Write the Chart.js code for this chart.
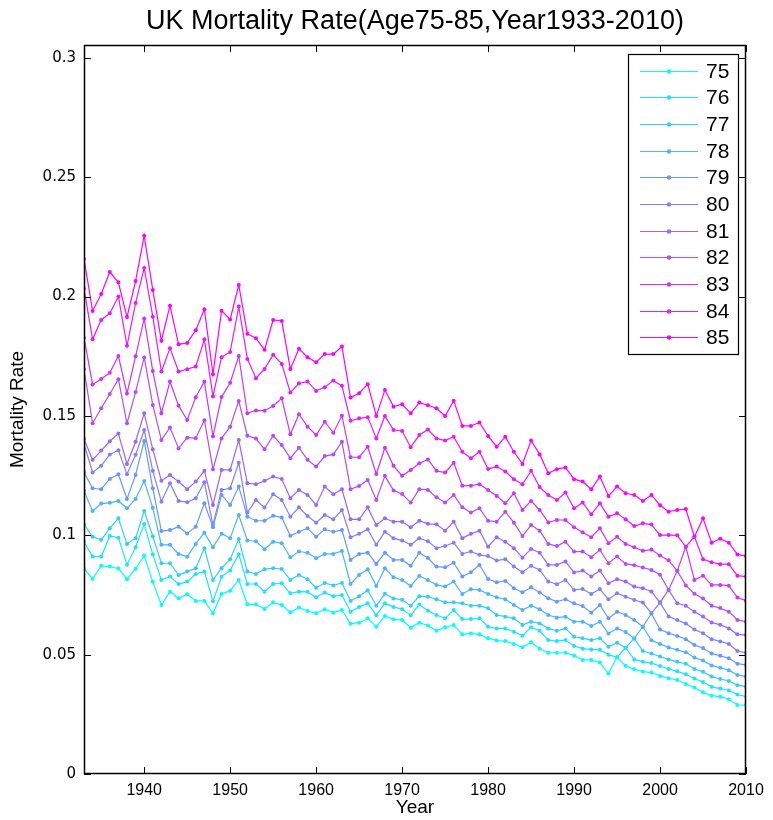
<!DOCTYPE html>
<html>
<head>
<meta charset="utf-8">
<title>UK Mortality Rate</title>
<script src="https://cdn.jsdelivr.net/npm/chart.js@4.4.1/dist/chart.umd.min.js"></script>
<style>
  body { margin: 0; background: #fff; }
  canvas { display: block; }
</style>
</head>
<body>
<canvas id="mortalityChart" width="773" height="820"></canvas>
<script>
const years = [
  1933, 1934, 1935, 1936, 1937, 1938, 1939, 1940, 1941, 1942, 1943, 1944, 1945, 1946,
  1947, 1948, 1949, 1950, 1951, 1952, 1953, 1954, 1955, 1956, 1957, 1958, 1959, 1960,
  1961, 1962, 1963, 1964, 1965, 1966, 1967, 1968, 1969, 1970, 1971, 1972, 1973, 1974,
  1975, 1976, 1977, 1978, 1979, 1980, 1981, 1982, 1983, 1984, 1985, 1986, 1987, 1988,
  1989, 1990, 1991, 1992, 1993, 1994, 1995, 1996, 1997, 1998, 1999, 2000, 2001, 2002,
  2003, 2004, 2005, 2006, 2007, 2008, 2009, 2010
];

const ages = ['75', '76', '77', '78', '79', '80', '81', '82', '83', '84', '85'];

// mortality rate per year, one array per age
const age75 = [
  0.0860, 0.0818, 0.0872, 0.0869, 0.0861, 0.0816, 0.0860, 0.0915, 0.0805, 0.0708, 0.0764, 0.0736, 0.0753, 0.0725,
  0.0725, 0.0673, 0.0754, 0.0768, 0.0813, 0.0711, 0.0711, 0.0691, 0.0719, 0.0708, 0.0678, 0.0697, 0.0683,
  0.0673, 0.0690, 0.0676, 0.0687, 0.0629, 0.0634, 0.0652, 0.0617, 0.0662, 0.0648, 0.0645, 0.0613, 0.0634, 0.0622,
  0.0600, 0.0615, 0.0624, 0.0585, 0.0589, 0.0585, 0.0569, 0.0559, 0.0557, 0.0545, 0.0531, 0.0552, 0.0525,
  0.0508, 0.0508, 0.0508, 0.0496, 0.0478, 0.0478, 0.0467, 0.0421, 0.0489, 0.0453, 0.0439, 0.0429, 0.0425,
  0.0411, 0.0401, 0.0394, 0.0377, 0.0362, 0.0342, 0.0328, 0.0324, 0.0313, 0.0289, 0.0289
];
const age76 = [
  0.0973, 0.0911, 0.0911, 0.0997, 0.0990, 0.0877, 0.0950, 0.1047, 0.0920, 0.0813, 0.0827, 0.0796, 0.0806, 0.0838,
  0.0848, 0.0724, 0.0826, 0.0853, 0.0921, 0.0796, 0.0796, 0.0764, 0.0796, 0.0799, 0.0757, 0.0764, 0.0763,
  0.0740, 0.0760, 0.0745, 0.0750, 0.0680, 0.0700, 0.0715, 0.0665, 0.0715, 0.0700, 0.0690, 0.0665, 0.0710, 0.0684,
  0.0666, 0.0652, 0.0687, 0.0649, 0.0649, 0.0652, 0.0617, 0.0610, 0.0610, 0.0596, 0.0579, 0.0615, 0.0600,
  0.0561, 0.0557, 0.0561, 0.0536, 0.0525, 0.0522, 0.0520, 0.0500, 0.0489, 0.0529, 0.0480, 0.0470, 0.0465,
  0.0452, 0.0440, 0.0430, 0.0418, 0.0400, 0.0385, 0.0365, 0.0358, 0.0350, 0.0333, 0.0324
];
const age77 = [
  0.1046, 0.0994, 0.0981, 0.1029, 0.1071, 0.0964, 0.0988, 0.1102, 0.0996, 0.0883, 0.0883, 0.0834, 0.0848, 0.0862,
  0.0946, 0.0813, 0.0862, 0.0900, 0.0984, 0.0848, 0.0838, 0.0858, 0.0862, 0.0859, 0.0813, 0.0834, 0.0816,
  0.0780, 0.0800, 0.0790, 0.0800, 0.0725, 0.0745, 0.0770, 0.0705, 0.0755, 0.0735, 0.0730, 0.0705, 0.0745, 0.0743,
  0.0732, 0.0719, 0.0719, 0.0715, 0.0705, 0.0705, 0.0694, 0.0666, 0.0659, 0.0652, 0.0624, 0.0638, 0.0631,
  0.0610, 0.0600, 0.0610, 0.0575, 0.0569, 0.0561, 0.0569, 0.0533, 0.0550, 0.0529, 0.0568, 0.0515, 0.0505,
  0.0492, 0.0480, 0.0470, 0.0462, 0.0440, 0.0428, 0.0408, 0.0398, 0.0390, 0.0372, 0.0366
];
const age78 = [
  0.1186, 0.1102, 0.1133, 0.1136, 0.1144, 0.1113, 0.1152, 0.1227, 0.1115, 0.0960, 0.0960, 0.0922, 0.0910, 0.0964,
  0.1011, 0.0950, 0.1007, 0.0988, 0.1085, 0.0978, 0.0975, 0.0942, 0.0973, 0.0967, 0.0908, 0.0932, 0.0927,
  0.0904, 0.0922, 0.0922, 0.0934, 0.0796, 0.0834, 0.0858, 0.0788, 0.0862, 0.0824, 0.0813, 0.0788, 0.0830, 0.0813,
  0.0792, 0.0785, 0.0806, 0.0754, 0.0774, 0.0771, 0.0754, 0.0740, 0.0732, 0.0708, 0.0687, 0.0705, 0.0690,
  0.0666, 0.0655, 0.0659, 0.0638, 0.0638, 0.0620, 0.0638, 0.0589, 0.0610, 0.0595, 0.0568, 0.0617, 0.0560,
  0.0545, 0.0530, 0.0520, 0.0510, 0.0488, 0.0475, 0.0455, 0.0445, 0.0435, 0.0415, 0.0408
];
const age79 = [
  0.1263, 0.1197, 0.1193, 0.1236, 0.1256, 0.1152, 0.1253, 0.1395, 0.1197, 0.1018, 0.1022, 0.1036, 0.1008, 0.1036,
  0.1134, 0.1034, 0.1169, 0.1127, 0.1204, 0.1078, 0.1061, 0.1061, 0.1082, 0.1075, 0.0998, 0.1015, 0.1029,
  0.0994, 0.1025, 0.1015, 0.1022, 0.0897, 0.0922, 0.0927, 0.0880, 0.0927, 0.0897, 0.0897, 0.0872, 0.0927, 0.0905,
  0.0869, 0.0866, 0.0885, 0.0827, 0.0845, 0.0876, 0.0817, 0.0803, 0.0809, 0.0778, 0.0761, 0.0782, 0.0760,
  0.0736, 0.0722, 0.0732, 0.0715, 0.0704, 0.0676, 0.0708, 0.0652, 0.0680, 0.0666, 0.0645, 0.0617, 0.0673,
  0.0605, 0.0590, 0.0578, 0.0565, 0.0540, 0.0528, 0.0505, 0.0495, 0.0485, 0.0462, 0.0457
];
const age80 = [
  0.1383, 0.1263, 0.1291, 0.1339, 0.1356, 0.1256, 0.1337, 0.1441, 0.1270, 0.1141, 0.1218, 0.1144, 0.1138, 0.1155,
  0.1222, 0.1043, 0.1190, 0.1197, 0.1304, 0.1095, 0.1148, 0.1116, 0.1172, 0.1148, 0.1078, 0.1117, 0.1081,
  0.1053, 0.1085, 0.1067, 0.1106, 0.0992, 0.1006, 0.1025, 0.0960, 0.1015, 0.0988, 0.0978, 0.0960, 0.0988, 0.0975,
  0.0946, 0.0955, 0.0969, 0.0922, 0.0932, 0.0918, 0.0913, 0.0894, 0.0900, 0.0869, 0.0845, 0.0872, 0.0855,
  0.0806, 0.0795, 0.0813, 0.0771, 0.0775, 0.0754, 0.0775, 0.0732, 0.0757, 0.0743, 0.0729, 0.0718, 0.0673,
  0.0718, 0.0660, 0.0645, 0.0630, 0.0605, 0.0590, 0.0565, 0.0555, 0.0545, 0.0515, 0.0508
];
const age81 = [
  0.1404, 0.1316, 0.1355, 0.1394, 0.1426, 0.1299, 0.1392, 0.1511, 0.1360, 0.1229, 0.1253, 0.1225, 0.1193, 0.1225,
  0.1270, 0.1127, 0.1274, 0.1274, 0.1399, 0.1218, 0.1214, 0.1228, 0.1246, 0.1236, 0.1155, 0.1190, 0.1169,
  0.1127, 0.1204, 0.1172, 0.1193, 0.1067, 0.1067, 0.1117, 0.1043, 0.1071, 0.1057, 0.1057, 0.1034, 0.1061, 0.1048,
  0.1046, 0.1019, 0.1057, 0.0988, 0.1006, 0.1019, 0.0952, 0.0992, 0.0973, 0.0946, 0.0906, 0.0943, 0.0927,
  0.0876, 0.0876, 0.0890, 0.0844, 0.0852, 0.0827, 0.0852, 0.0799, 0.0816, 0.0806, 0.0785, 0.0778, 0.0765,
  0.0718, 0.0771, 0.0715, 0.0705, 0.0680, 0.0660, 0.0635, 0.0625, 0.0610, 0.0585, 0.0582
];
const age82 = [
  0.1696, 0.1469, 0.1532, 0.1592, 0.1654, 0.1469, 0.1600, 0.1745, 0.1546, 0.1399, 0.1452, 0.1364, 0.1409, 0.1407,
  0.1482, 0.1277, 0.1406, 0.1455, 0.1563, 0.1417, 0.1405, 0.1360, 0.1417, 0.1378, 0.1323, 0.1367, 0.1316,
  0.1288, 0.1332, 0.1339, 0.1392, 0.1193, 0.1207, 0.1232, 0.1148, 0.1249, 0.1188, 0.1173, 0.1137, 0.1193, 0.1190,
  0.1159, 0.1137, 0.1169, 0.1117, 0.1095, 0.1113, 0.1061, 0.1057, 0.1099, 0.1053, 0.0997, 0.1043, 0.1019,
  0.0964, 0.0955, 0.0973, 0.0932, 0.0932, 0.0908, 0.0939, 0.0883, 0.0911, 0.0880, 0.0875, 0.0865, 0.0855,
  0.0835, 0.0771, 0.0851, 0.0790, 0.0755, 0.0735, 0.0705, 0.0695, 0.0680, 0.0645, 0.0638
];
const age83 = [
  0.1828, 0.1632, 0.1655, 0.1681, 0.1751, 0.1594, 0.1750, 0.1908, 0.1688, 0.1511, 0.1644, 0.1543, 0.1483, 0.1578,
  0.1644, 0.1415, 0.1579, 0.1639, 0.1751, 0.1511, 0.1523, 0.1522, 0.1542, 0.1574, 0.1423, 0.1507, 0.1455,
  0.1420, 0.1476, 0.1430, 0.1501, 0.1327, 0.1327, 0.1371, 0.1257, 0.1367, 0.1291, 0.1249, 0.1274, 0.1302, 0.1318,
  0.1270, 0.1263, 0.1304, 0.1208, 0.1208, 0.1214, 0.1190, 0.1165, 0.1134, 0.1176, 0.1106, 0.1144, 0.1106,
  0.1054, 0.1064, 0.1064, 0.1034, 0.1013, 0.0992, 0.1029, 0.0967, 0.0994, 0.0964, 0.0950, 0.0935, 0.0940,
  0.0915, 0.0895, 0.0851, 0.0952, 0.0813, 0.0831, 0.0792, 0.0792, 0.0789, 0.0739, 0.0726
];
const age84 = [
  0.2033, 0.1821, 0.1902, 0.1930, 0.2000, 0.1794, 0.1973, 0.2120, 0.1916, 0.1686, 0.1784, 0.1686, 0.1696, 0.1707,
  0.1821, 0.1583, 0.1746, 0.1768, 0.1958, 0.1739, 0.1658, 0.1697, 0.1756, 0.1718, 0.1598, 0.1637, 0.1644,
  0.1605, 0.1620, 0.1648, 0.1626, 0.1480, 0.1490, 0.1495, 0.1406, 0.1500, 0.1441, 0.1437, 0.1369, 0.1420, 0.1443,
  0.1406, 0.1397, 0.1413, 0.1350, 0.1323, 0.1350, 0.1278, 0.1288, 0.1267, 0.1235, 0.1214, 0.1270, 0.1202,
  0.1169, 0.1148, 0.1179, 0.1113, 0.1137, 0.1088, 0.1134, 0.1078, 0.1092, 0.1067, 0.1039, 0.1050, 0.1045,
  0.1001, 0.1001, 0.1000, 0.0952, 0.0994, 0.0900, 0.0887, 0.0879, 0.0879, 0.0831, 0.0827
];
const age85 = [
  0.2158, 0.1940, 0.2011, 0.2103, 0.2060, 0.1914, 0.2065, 0.2255, 0.2028, 0.1815, 0.1962, 0.1800, 0.1806, 0.1859,
  0.1947, 0.1675, 0.1941, 0.1904, 0.2049, 0.1844, 0.1826, 0.1777, 0.1902, 0.1898, 0.1697, 0.1781, 0.1746,
  0.1725, 0.1759, 0.1759, 0.1791, 0.1577, 0.1595, 0.1633, 0.1500, 0.1609, 0.1539, 0.1549, 0.1511, 0.1556, 0.1545,
  0.1532, 0.1500, 0.1564, 0.1458, 0.1458, 0.1473, 0.1416, 0.1371, 0.1413, 0.1350, 0.1299, 0.1397, 0.1339,
  0.1260, 0.1277, 0.1284, 0.1235, 0.1225, 0.1193, 0.1246, 0.1165, 0.1204, 0.1176, 0.1169, 0.1144, 0.1169,
  0.1126, 0.1099, 0.1106, 0.1110, 0.0994, 0.1071, 0.0969, 0.0986, 0.0969, 0.0920, 0.0913
];

const xTicks = [1940, 1950, 1960, 1970, 1980, 1990, 2000, 2010];
const yTicks = [0, 0.05, 0.1, 0.15, 0.2, 0.25, 0.3];
const chartTitle = 'UK Mortality Rate(Age75-85,Year1933-2010)';

const seriesValues = [age75, age76, age77, age78, age79, age80, age81, age82, age83, age84, age85];

// matlab "cool" colormap: cyan -> magenta
function coolColor(i, n) {
  const t = n > 1 ? i / (n - 1) : 0;
  const r = Math.round(255 * t);
  return `rgb(${r},${255 - r},255)`;
}

const datasets = seriesValues.map((values, i) => {
  const color = coolColor(i, seriesValues.length);
  return {
    label: ages[i],
    data: values.map((v, j) => ({x: years[j], y: v})),
    borderColor: color,
    backgroundColor: color,
    borderWidth: 1.2,
    pointRadius: 2,
    pointBorderWidth: 0,
    pointBackgroundColor: color,
    tension: 0,
  };
});

const fontSans = "'Liberation Sans', Arial, Helvetica, sans-serif";

// white page behind the plot, title centred over the axes
const background = {
  id: 'background',
  beforeDraw(chart) {
    const ctx = chart.ctx;
    ctx.save();
    ctx.fillStyle = '#fff';
    ctx.fillRect(0, 0, chart.width, chart.height);
    ctx.restore();
  },
  afterDraw(chart) {
    const {ctx, chartArea: a} = chart;
    ctx.save();
    ctx.fillStyle = '#000';
    ctx.font = `27px ${fontSans}`;
    ctx.textAlign = 'center';
    ctx.textBaseline = 'middle';
    ctx.fillText(chartTitle, (a.left + a.right) / 2, 22);
    ctx.restore();
  },
};

// box round the axes with inward ticks on all four sides
const axesBox = {
  id: 'axesBox',
  afterDatasetsDraw(chart) {
    const {ctx, chartArea: a, scales} = chart;
    const len = 7;
    ctx.save();
    ctx.strokeStyle = '#000';
    ctx.lineWidth = 1;
    ctx.beginPath();
    xTicks.forEach((v) => {
      const px = Math.round(scales.x.getPixelForValue(v)) + 0.5;
      ctx.moveTo(px, a.bottom);
      ctx.lineTo(px, a.bottom - len);
      ctx.moveTo(px, a.top);
      ctx.lineTo(px, a.top + len);
    });
    yTicks.forEach((v) => {
      const py = Math.round(scales.y.getPixelForValue(v)) + 0.5;
      ctx.moveTo(a.left, py);
      ctx.lineTo(a.left + len, py);
      ctx.moveTo(a.right, py);
      ctx.lineTo(a.right - len, py);
    });
    ctx.stroke();
    ctx.lineWidth = 1.5;
    ctx.strokeRect(Math.round(a.left) + 0.5, Math.round(a.top) + 0.5,
      Math.round(a.width) - 1, Math.round(a.height) - 1);
    ctx.restore();
  },
};

// legend box in the top right corner of the axes
const cornerLegend = {
  id: 'cornerLegend',
  afterDraw(chart) {
    const {ctx, chartArea: a} = chart;
    const w = 110, h = 300;
    const left = a.right - 8 - w;
    const top = a.top + 9;
    const pad = 16.7;
    const step = (h - 2 * pad) / (datasets.length - 1);
    ctx.save();
    ctx.fillStyle = '#fff';
    ctx.fillRect(left, top, w, h);
    ctx.strokeStyle = '#000';
    ctx.lineWidth = 1.2;
    ctx.strokeRect(left + 0.5, top + 0.5, w, h);
    ctx.font = `21px ${fontSans}`;
    ctx.textBaseline = 'middle';
    ctx.textAlign = 'left';
    datasets.forEach((ds, i) => {
      const cy = Math.round(top + pad + i * step) + 0.5;
      ctx.strokeStyle = ds.borderColor;
      ctx.lineWidth = 1.2;
      ctx.beginPath();
      ctx.moveTo(left + 12, cy);
      ctx.lineTo(left + 70, cy);
      ctx.stroke();
      ctx.fillStyle = ds.borderColor;
      ctx.beginPath();
      ctx.arc(left + 41, cy, 2.2, 0, Math.PI * 2);
      ctx.fill();
      ctx.fillStyle = '#000';
      ctx.fillText(ds.label, left + 78, cy + 1);
    });
    ctx.restore();
  },
};

const ctx = document.getElementById('mortalityChart').getContext('2d');

new Chart(ctx, {
  type: 'line',
  data: {datasets: datasets},
  options: {
    responsive: false,
    animation: false,
    devicePixelRatio: 1,
    layout: {padding: {left: 0, right: 27, top: 45, bottom: 0}},
    plugins: {
      legend: {display: false},
      tooltip: {enabled: false},
      title: {display: false},
    },
    scales: {
      x: {
        type: 'linear',
        min: 1933,
        max: 2010,
        grid: {display: false, drawTicks: false},
        border: {display: false},
        afterBuildTicks: (axis) => {
          axis.ticks = xTicks.map((v) => ({value: v}));
        },
        afterFit: (axis) => {
          axis.height = 46;
        },
        ticks: {
          color: '#000',
          autoSkip: false,
          maxRotation: 0,
          padding: 7,
          font: {family: fontSans, size: 16},
          callback: (v) => String(v),
        },
        title: {
          display: true,
          text: 'Year',
          color: '#000',
          font: {family: fontSans, size: 19},
          padding: {top: 0, bottom: 1},
        },
      },
      y: {
        type: 'linear',
        min: 0,
        max: 0.3054,
        grid: {display: false, drawTicks: false},
        border: {display: false},
        afterBuildTicks: (axis) => {
          axis.ticks = yTicks.map((v) => ({value: v}));
        },
        afterFit: (axis) => {
          axis.width = 84;
        },
        ticks: {
          color: '#000',
          padding: 8,
          font: {family: "'DejaVu Sans', Verdana, sans-serif", size: 15},
          callback: (v) => String(Math.round(v * 100) / 100),
        },
        title: {
          display: true,
          text: 'Mortality Rate',
          color: '#000',
          font: {family: fontSans, size: 19},
          padding: {top: 6, bottom: 0},
        },
      },
    },
  },
  plugins: [background, axesBox, cornerLegend],
});
</script>
</body>
</html>
